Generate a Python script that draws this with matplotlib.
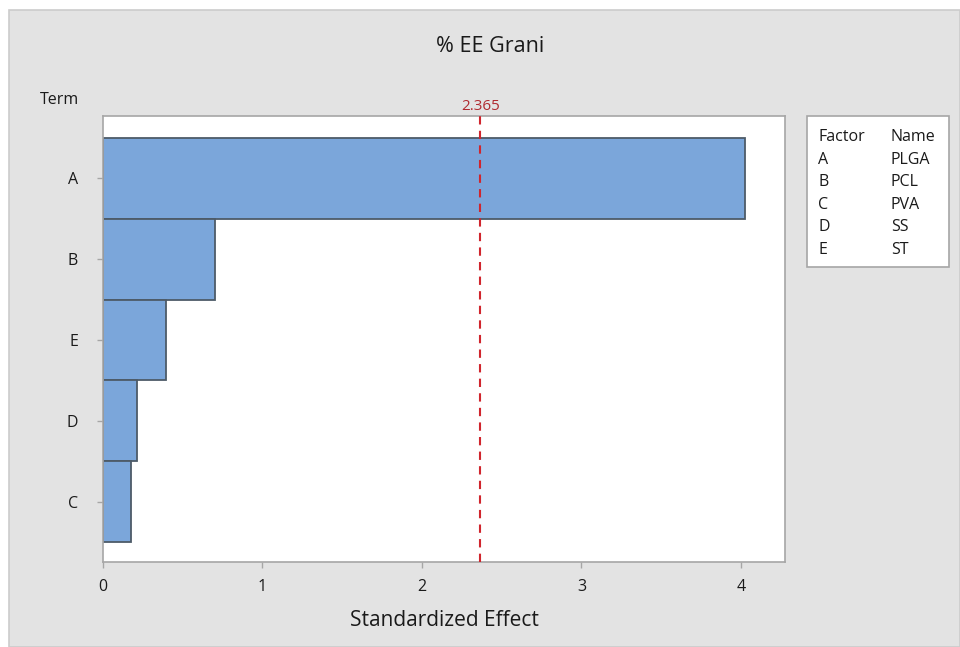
import matplotlib.pyplot as plt
from matplotlib.patches import Rectangle

plt.rcParams['font.family'] = ['Open Sans', 'DejaVu Sans']

terms = ['A', 'B', 'E', 'D', 'C']
effects = [4.025, 0.70, 0.395, 0.213, 0.176]
critical = 2.365
factors = ['A', 'B', 'C', 'D', 'E']
names = ['PLGA', 'PCL', 'PVA', 'SS', 'ST']
xticks = [0, 1, 2, 3, 4]

W, H = 960, 647
fig = plt.figure(figsize=(W / 100, H / 100), dpi=100, facecolor='white')
txt = '#1a1a1a'

# gray panel behind everything
fig.patches.append(Rectangle((9 / W, 0), 1 - 9 / W, 1 - 10 / H, transform=fig.transFigure,
                             facecolor='#e3e3e3', edgecolor='#cccccc', lw=1.2, zorder=-5))

ax = fig.add_axes([103 / W, 1 - 562 / H, (785 - 103) / W, (562 - 116) / H])
ax.set_facecolor('white')

ypos = list(range(len(terms)))
ax.barh(ypos, effects, height=1.0, color='#7ba6da', edgecolor='#4d5b68', lw=1.3, zorder=2)
ax.axvline(critical, color='#d0252d', ls=(0, (4, 3)), lw=1.5, zorder=3)
ax.text(critical, -0.8, f'{critical}', color='#b02a30', ha='center', va='bottom', fontsize=11)

ax.set_xlim(0, 4.276)
ax.set_ylim(4.745, -0.77)
ax.set_xticks(xticks)
ax.set_yticks(ypos)
ax.set_yticklabels(terms)
for s in ax.spines.values():
    s.set_color('#a6a6a6')
    s.set_linewidth(1.2)
ax.tick_params(colors='#a6a6a6', labelcolor=txt, length=4, width=1, labelsize=11.5, pad=8)
ax.tick_params(axis='y', pad=14)

ax.set_xlabel('Standardized Effect', fontsize=15, color=txt, labelpad=11)
fig.text(490 / W, 1 - 47 / H, '% EE Grani', ha='center', va='center', fontsize=15.5, color=txt)
fig.text(40 / W, 1 - 100 / H, 'Term', ha='left', va='center', fontsize=11.5, color=txt)

# factor key box
fig.patches.append(Rectangle((807 / W, 1 - 267 / H), (949 - 807) / W, (267 - 116) / H,
                             transform=fig.transFigure, facecolor='white',
                             edgecolor='#a6a6a6', lw=1.2, zorder=1))
rows = [('Factor', 'Name')] + list(zip(factors, names))
for i, (f, n) in enumerate(rows):
    y = 1 - (137 + i * 22.6) / H
    fig.text(818 / W, y, f, ha='left', va='center', fontsize=11.5, color=txt, zorder=2)
    fig.text(891 / W, y, n, ha='left', va='center', fontsize=11.5, color=txt, zorder=2)

fig.savefig('out.png', dpi=100, facecolor=fig.get_facecolor())
